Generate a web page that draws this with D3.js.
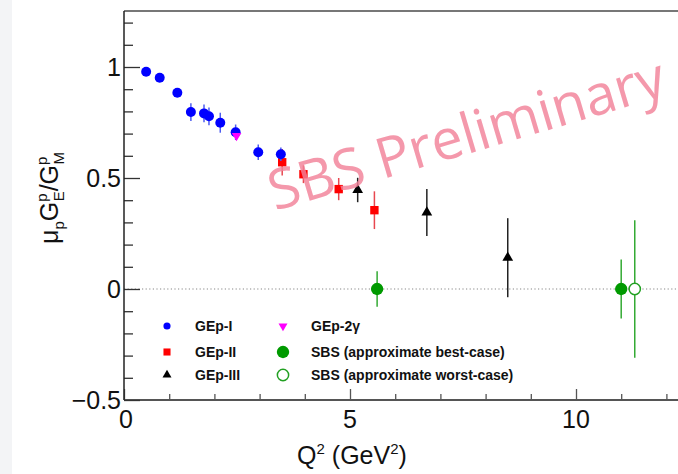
<!DOCTYPE html>
<html><head><meta charset="utf-8">
<script src="https://cdn.jsdelivr.net/npm/d3@7"></script>
<style>body{margin:0;background:#fff}svg{display:block}</style>
</head><body><svg id="c" width="678" height="474"></svg>
<script>
// ---- data ----
const gep1X = [0.49, 0.79, 1.18, 1.48, 1.77, 1.88, 2.13, 2.47, 2.97, 3.47];
const gep1Y = [0.979, 0.952, 0.884, 0.797, 0.791, 0.778, 0.749, 0.706, 0.616, 0.607];
const gep1E = [0.01, 0.01, 0.012, 0.04, 0.04, 0.04, 0.045, 0.035, 0.035, 0.03];
const gep2X = [3.5, 3.97, 4.75, 5.54];
const gep2Y = [0.571, 0.517, 0.45, 0.355];
const gep2E = [0.06, 0.04, 0.05, 0.085];
const gep3X = [5.17, 6.70, 8.49];
const gep3Y = [0.446, 0.345, 0.141];
const gep3E = [0.055, 0.106, 0.178];
const gep2gX = [2.49];
const gep2gY = [0.69];
const gep2gE = [0.01];
const sbsBestX = [5.6, 11.0];
const sbsBestY = [0, 0];
const sbsBestE = [0.08, 0.133];
const sbsWorstX = [11.3];
const sbsWorstY = [0];
const sbsWorstE = [0.31];
const xMajor = [0, 5, 10];
const yMajor = [-0.5, 0, 0.5, 1];
const legendLabels = ["GEp-I", "GEp-II", "GEp-III", "GEp-2γ", "SBS (approximate best-case)", "SBS (approximate worst-case)"];

const svg = d3.select("#c");
const x = d3.scaleLinear().domain([0, 10]).range([124, 576]);
const y = d3.scaleLinear().domain([-0.5, 1]).range([400, 67]);
const xMax = x.invert(678), yMax = y.invert(11);
const font = "'Liberation Sans', Arial, Helvetica, sans-serif";

// left grey strip
svg.append("rect").attr("x", 0).attr("y", 0).attr("width", 12).attr("height", 474).attr("fill", "#f3f4f6");

// zero line
svg.append("line").attr("x1", x(0)).attr("x2", 678).attr("y1", y(0)).attr("y2", y(0))
  .attr("stroke", "#888").attr("stroke-width", 1.2).attr("stroke-dasharray", "1.2,2.4");

// frame top
svg.append("line").attr("x1", x(0)).attr("x2", 678).attr("y1", 11).attr("y2", 11)
  .attr("stroke", "#777").attr("stroke-width", 2);

// x axis
const xAxis = d3.axisBottom(x).tickValues(d3.range(0, Math.floor(xMax) + 1, 1))
  .tickSize(0).tickFormat("");
const gx = svg.append("g").attr("transform", `translate(0,${y(-0.5)})`).call(xAxis);
gx.select(".domain").remove();
gx.append("line").attr("x1", x(0)).attr("x2", 678).attr("stroke", "#555").attr("stroke-width", 2);
gx.selectAll(".tick line").attr("y2", d => xMajor.includes(d) ? -11 : -6).attr("stroke", "#555").attr("stroke-width", 1.3);
svg.selectAll(".xl").data(xMajor).enter().append("text")
  .attr("x", d => x(d) + (d === 0 ? 2 : 0)).attr("y", 428).attr("text-anchor", "middle")
  .attr("font-family", font).attr("font-size", 25).attr("fill", "#111").text(d => d);

// y axis
const yTicks = d3.range(-5, Math.floor(yMax * 10) + 1).map(d => d / 10);
const yAxis = d3.axisLeft(y).tickValues(yTicks).tickSize(0).tickFormat("");
const gy = svg.append("g").attr("transform", `translate(${x(0)},0)`).call(yAxis);
gy.select(".domain").remove();
gy.append("line").attr("y1", 11).attr("y2", y(-0.5)).attr("stroke", "#222").attr("stroke-width", 1.5);
gy.selectAll(".tick line").attr("x2", d => yMajor.some(m => Math.abs(m - d) < 1e-9) ? 16 : 9)
  .attr("stroke", "#333").attr("stroke-width", 1.3);
svg.selectAll(".yl").data(yMajor).enter().append("text")
  .attr("x", 121).attr("y", d => y(d) + 9).attr("text-anchor", "end")
  .attr("font-family", font).attr("font-size", 25).attr("fill", "#111")
  .text(d => d < 0 ? "\u2212" + Math.abs(d) : d);

// axis titles
const xt = svg.append("text").attr("x", 352).attr("y", 464).attr("text-anchor", "middle")
  .attr("font-family", font).attr("font-size", 25).attr("fill", "#111");
xt.append("tspan").text("Q");
xt.append("tspan").attr("font-size", 15).attr("dy", -10).text("2");
xt.append("tspan").attr("dy", 10).text(" (GeV");
xt.append("tspan").attr("font-size", 15).attr("dy", -10).text("2");
xt.append("tspan").attr("dy", 10).text(")");

const yt = svg.append("text").attr("transform", "translate(58,198) rotate(-90)").attr("text-anchor", "middle")
  .attr("font-family", font).attr("font-size", 25).attr("fill", "#111");
yt.append("tspan").text("μ");
yt.append("tspan").attr("font-size", 15).attr("dy", 6).text("p");
yt.append("tspan").attr("dy", -6).text("G");
yt.append("tspan").attr("font-size", 15).attr("dy", -11).text("p");
yt.append("tspan").attr("font-size", 15).attr("dx", -8).attr("dy", 17).text("E");
yt.append("tspan").attr("dy", -6).text("/G");
yt.append("tspan").attr("font-size", 15).attr("dy", -11).text("p");
yt.append("tspan").attr("font-size", 15).attr("dx", -8).attr("dy", 17).text("M");

// series drawing
function series(xs, ys, es, color, barColor, shape, size, fill) {
  const g = svg.append("g");
  const data = xs.map((v, i) => ({ x: v, y: ys[i], e: es[i] }));
  g.selectAll("line").data(data).enter().append("line")
    .attr("x1", d => x(d.x)).attr("x2", d => x(d.x))
    .attr("y1", d => y(d.y + d.e)).attr("y2", d => y(d.y - d.e))
    .attr("stroke", barColor).attr("stroke-width", 1.5);
  g.selectAll("path").data(data).enter().append("path")
    .attr("transform", d => `translate(${x(d.x)},${y(d.y)})` + (shape === "tdown" ? " rotate(180)" : ""))
    .attr("d", d3.symbol().type(shape === "circle" ? d3.symbolCircle : shape === "square" ? d3.symbolSquare : d3.symbolTriangle).size(size))
    .attr("fill", fill ? color : "#fff").attr("stroke", color).attr("stroke-width", fill ? 0 : 1.5);
}
series(gep3X, gep3Y, gep3E, "#000", "#222", "triangle", 50, true);
series(gep2X, gep2Y, gep2E, "#ff0000", "#e8474f", "square", 70, true);
series(gep1X, gep1Y, gep1E, "#0000ff", "#4d5cf0", "circle", 78, true);
series(gep2gX, gep2gY, gep2gE, "#ff00ff", "#ff00ff", "tdown", 40, true);
series(sbsBestX, sbsBestY, sbsBestE, "#009a00", "#33aa33", "circle", 120, true);
series(sbsWorstX, sbsWorstY, sbsWorstE, "#22a022", "#33aa33", "circle", 100, false);

// legend
const leg = [
  { t: legendLabels[0], c: "#0000ff", s: "circle", sz: 40, f: true, lx: 167, ly: 326 },
  { t: legendLabels[1], c: "#ff0000", s: "square", sz: 50, f: true, lx: 167, ly: 352 },
  { t: legendLabels[2], c: "#000", s: "triangle", sz: 35, f: true, lx: 167, ly: 375 },
  { t: legendLabels[3], c: "#ff00ff", s: "tdown", sz: 35, f: true, lx: 283, ly: 326 },
  { t: legendLabels[4], c: "#009a00", s: "circle", sz: 120, f: true, lx: 283, ly: 352 },
  { t: legendLabels[5], c: "#22a022", s: "circle", sz: 100, f: false, lx: 283, ly: 375 }
];
leg.forEach(d => {
  svg.append("path")
    .attr("transform", `translate(${d.lx},${d.ly})` + (d.s === "tdown" ? " rotate(180)" : ""))
    .attr("d", d3.symbol().type(d.s === "circle" ? d3.symbolCircle : d.s === "square" ? d3.symbolSquare : d3.symbolTriangle).size(d.sz))
    .attr("fill", d.f ? d.c : "#fff").attr("stroke", d.c).attr("stroke-width", d.f ? 0 : 1.5);
  svg.append("text").attr("x", d.lx + 28).attr("y", d.ly + 5)
    .attr("font-family", font).attr("font-size", 14).attr("font-weight", "bold").attr("fill", "#111").text(d.t);
});

// watermark
svg.append("text").attr("transform", "translate(275,211) rotate(-16.5)")
  .attr("font-family", "'Open Sans', 'Noto Sans', sans-serif").attr("font-size", 56)
  .attr("fill", "#f28198").attr("fill-opacity", 0.82).text("SBS Preliminary");
</script></body></html>
